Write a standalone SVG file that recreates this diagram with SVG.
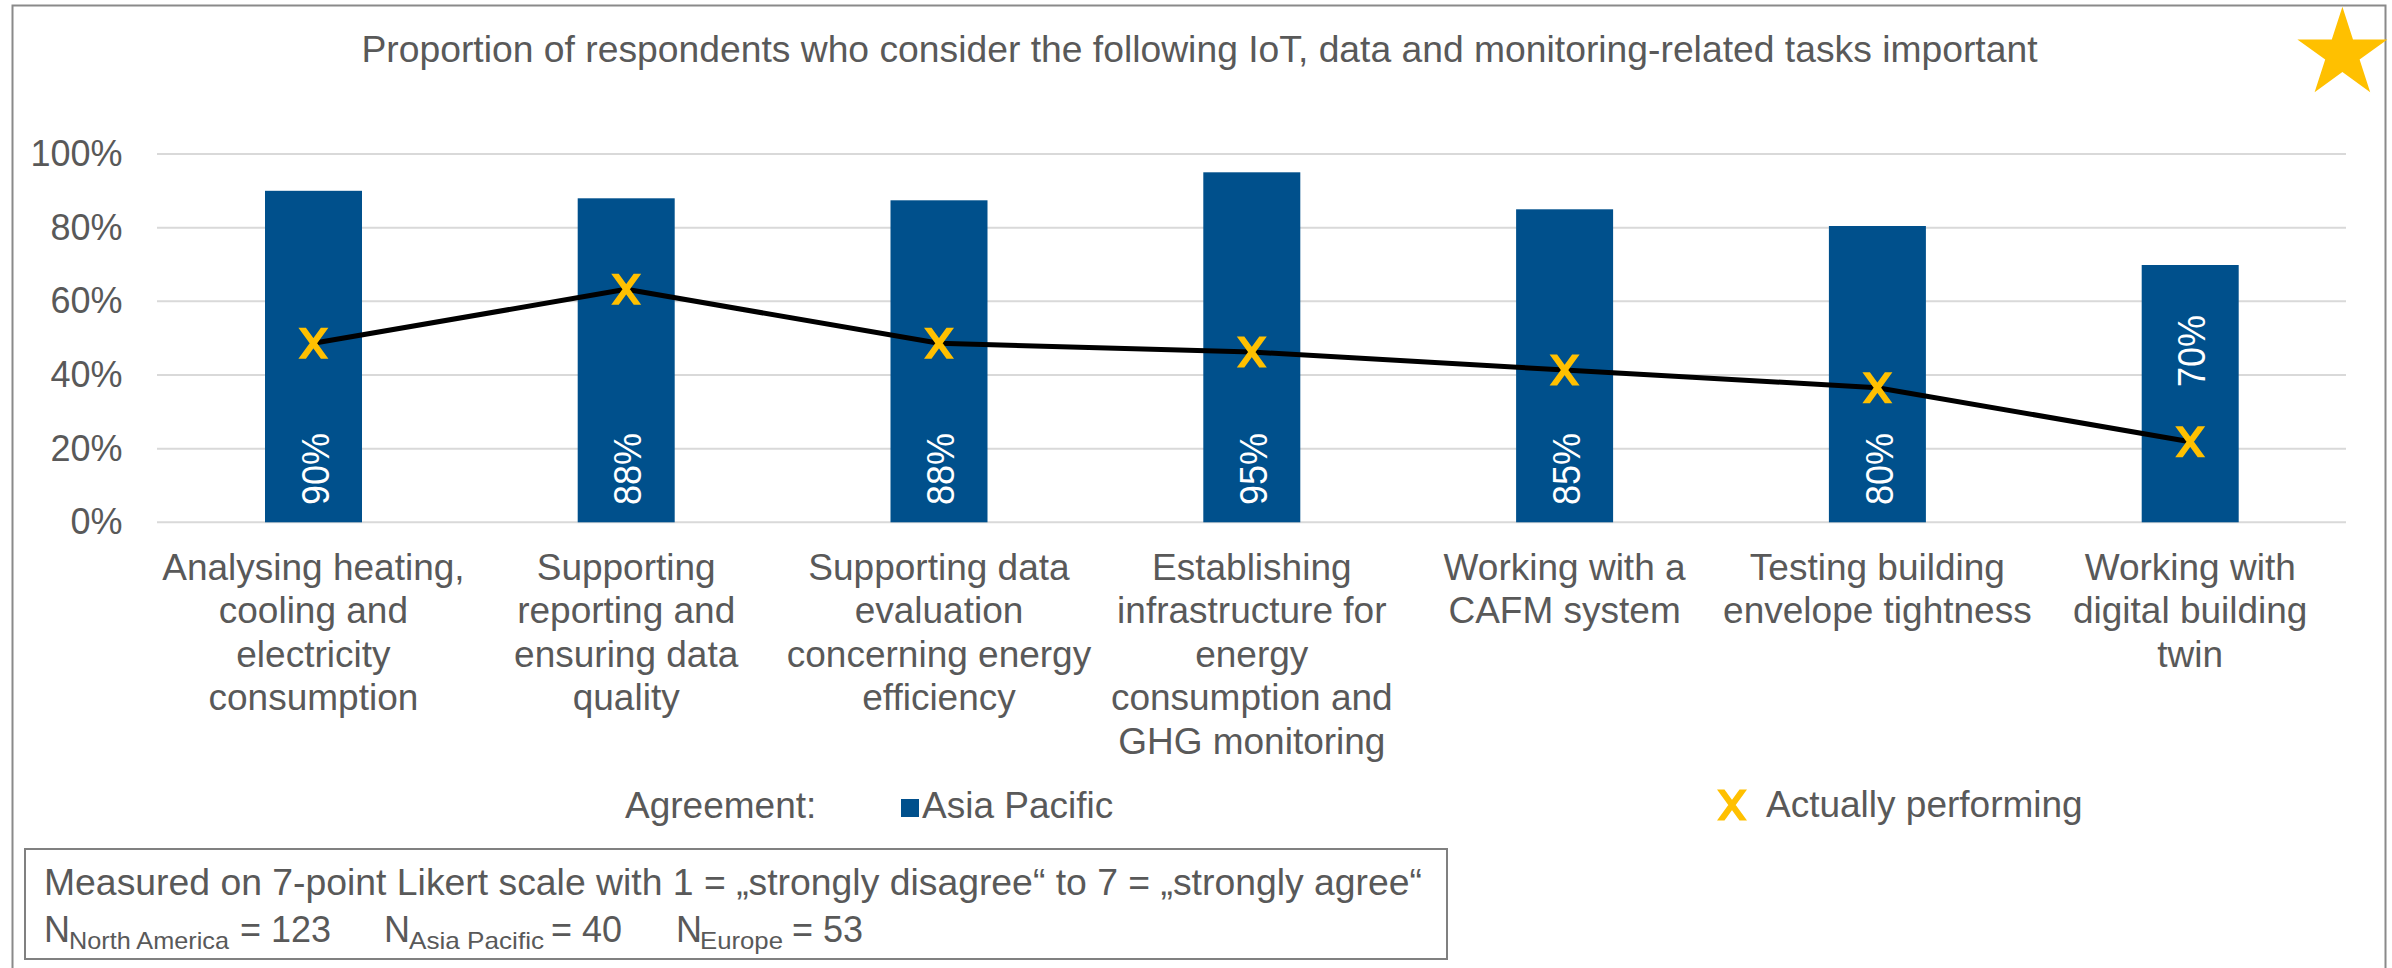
<svg xmlns="http://www.w3.org/2000/svg" xmlns:xlink="http://www.w3.org/1999/xlink" width="2392" height="968" viewBox="0 0 2392 968">
  <style>
    .t { font-family: "Liberation Sans", Arial, sans-serif; fill: #595959; }
    .ax { font-size: 36px; text-anchor: end; }
    .cat { font-size: 37px; text-anchor: middle; }
    .lg { font-size: 37px; }
    .fn { font-size: 36px; }
    .sub { font-size: 24px; }
    .grid { stroke: #d9d9d9; stroke-width: 2; }
    .bar { fill: #00508c; }
    .dl { font-family: "Liberation Sans", Arial, sans-serif; fill: #ffffff; font-size: 38px; }
  </style>
  <defs>
    <path id="xm" d="M-15,-15.5 L-7.5,-15.5 L15,15.5 L7.5,15.5 Z M7.5,-15.5 L15,-15.5 L-7.5,15.5 L-15,15.5 Z" fill="#ffc000"/>
  </defs>
  <rect x="0" y="0" width="2392" height="968" fill="#ffffff"/>
  <g id="frame">
    <path d="M12.5,970 L12.5,5.5 L2385.5,5.5 L2385.5,970" fill="none" stroke="#8a8a8a" stroke-width="2"/>
  </g>
  <g id="title">
    <text class="t" x="361.5" y="61.5" font-size="37" textLength="1676" lengthAdjust="spacingAndGlyphs">Proportion of respondents who consider the following IoT, data and monitoring-related tasks important</text>
  </g>
  <g id="star">
    <polygon fill="#ffc000" points="2342.4,6.7 2353.0,39.4 2387.4,39.4 2359.6,59.6 2370.2,92.3 2342.4,72.1 2314.6,92.3 2325.2,59.6 2297.4,39.4 2331.8,39.4"/>
  </g>
  <g id="gridlines">
    <line class="grid" x1="157" y1="154" x2="2346" y2="154"/>
    <line class="grid" x1="157" y1="227.7" x2="2346" y2="227.7"/>
    <line class="grid" x1="157" y1="301.3" x2="2346" y2="301.3"/>
    <line class="grid" x1="157" y1="375" x2="2346" y2="375"/>
    <line class="grid" x1="157" y1="448.7" x2="2346" y2="448.7"/>
    <line class="grid" x1="157" y1="522.3" x2="2346" y2="522.3"/>
  </g>
  <g id="y-axis">
    <text class="t ax" x="122.5" y="166">100%</text>
    <text class="t ax" x="122.5" y="239.7">80%</text>
    <text class="t ax" x="122.5" y="313.3">60%</text>
    <text class="t ax" x="122.5" y="387">40%</text>
    <text class="t ax" x="122.5" y="460.7">20%</text>
    <text class="t ax" x="122.5" y="534.3">0%</text>
  </g>
  <g id="bar-1"><rect class="bar" x="265" y="190.8" width="97" height="331.5"/><text class="dl" transform="translate(328.5,505) rotate(-90)" textLength="72" lengthAdjust="spacingAndGlyphs">90%</text></g>
  <g id="bar-2"><rect class="bar" x="577.7" y="198.3" width="97" height="324"/><text class="dl" transform="translate(641.3,505) rotate(-90)" textLength="72" lengthAdjust="spacingAndGlyphs">88%</text></g>
  <g id="bar-3"><rect class="bar" x="890.5" y="200.3" width="97" height="322"/><text class="dl" transform="translate(954.1,505) rotate(-90)" textLength="72" lengthAdjust="spacingAndGlyphs">88%</text></g>
  <g id="bar-4"><rect class="bar" x="1203.3" y="172.3" width="97" height="350"/><text class="dl" transform="translate(1266.9,505) rotate(-90)" textLength="72" lengthAdjust="spacingAndGlyphs">95%</text></g>
  <g id="bar-5"><rect class="bar" x="1516.1" y="209.3" width="97" height="313"/><text class="dl" transform="translate(1579.7,505) rotate(-90)" textLength="72" lengthAdjust="spacingAndGlyphs">85%</text></g>
  <g id="bar-6"><rect class="bar" x="1828.9" y="226" width="97" height="296.3"/><text class="dl" transform="translate(1892.5,505) rotate(-90)" textLength="72" lengthAdjust="spacingAndGlyphs">80%</text></g>
  <g id="bar-7"><rect class="bar" x="2141.7" y="265" width="97" height="257.3"/><text class="dl" transform="translate(2205.3,387) rotate(-90)" textLength="72" lengthAdjust="spacingAndGlyphs">70%</text></g>
  <g id="connectors">
    <polyline points="313.4,343.3 626.2,289.3 939,343.3 1251.8,352 1564.6,370 1877.4,387.7 2190.2,441.7" fill="none" stroke="#000000" stroke-width="5" stroke-linejoin="round"/>
  </g>
  <g id="markers">
    <use xlink:href="#xm" x="313.4" y="343.3"/>
    <use xlink:href="#xm" x="626.2" y="289.3"/>
    <use xlink:href="#xm" x="939" y="343.3"/>
    <use xlink:href="#xm" x="1251.8" y="352"/>
    <use xlink:href="#xm" x="1564.6" y="370"/>
    <use xlink:href="#xm" x="1877.4" y="387.7"/>
    <use xlink:href="#xm" x="2190.2" y="441.7"/>
  </g>
  <g id="category-labels">
    <text class="t cat"><tspan x="313.4" y="579.5">Analysing heating,</tspan><tspan x="313.4" y="623">cooling and</tspan><tspan x="313.4" y="666.5">electricity</tspan><tspan x="313.4" y="710">consumption</tspan></text>
    <text class="t cat"><tspan x="626.2" y="579.5">Supporting</tspan><tspan x="626.2" y="623">reporting and</tspan><tspan x="626.2" y="666.5">ensuring data</tspan><tspan x="626.2" y="710">quality</tspan></text>
    <text class="t cat"><tspan x="939" y="579.5">Supporting data</tspan><tspan x="939" y="623">evaluation</tspan><tspan x="939" y="666.5">concerning energy</tspan><tspan x="939" y="710">efficiency</tspan></text>
    <text class="t cat"><tspan x="1251.8" y="579.5">Establishing</tspan><tspan x="1251.8" y="623">infrastructure for</tspan><tspan x="1251.8" y="666.5">energy</tspan><tspan x="1251.8" y="710">consumption and</tspan><tspan x="1251.8" y="753.5">GHG monitoring</tspan></text>
    <text class="t cat"><tspan x="1564.6" y="579.5">Working with a</tspan><tspan x="1564.6" y="623">CAFM system</tspan></text>
    <text class="t cat"><tspan x="1877.4" y="579.5">Testing building</tspan><tspan x="1877.4" y="623">envelope tightness</tspan></text>
    <text class="t cat"><tspan x="2190.2" y="579.5">Working with</tspan><tspan x="2190.2" y="623">digital building</tspan><tspan x="2190.2" y="666.5">twin</tspan></text>
  </g>
  <g id="legend">
    <text class="t lg" x="625" y="818">Agreement:</text>
    <rect class="bar" x="901" y="799" width="18" height="18"/>
    <text class="t lg" x="922" y="818">Asia Pacific</text>
    <use xlink:href="#xm" x="1732" y="805"/>
    <text class="t lg" x="1766" y="817">Actually performing</text>
  </g>
  <g id="footnote">
    <rect x="25" y="849" width="1422" height="110" fill="none" stroke="#808080" stroke-width="2"/>
    <text class="t fn" x="44" y="895" textLength="1378" lengthAdjust="spacingAndGlyphs">Measured on 7-point Likert scale with 1 = „strongly disagree“ to 7 = „strongly agree“</text>
    <text class="t fn">
      <tspan x="44" y="941.5">N</tspan><tspan class="sub" x="69" y="949" textLength="160" lengthAdjust="spacingAndGlyphs">North America</tspan><tspan x="240" y="941.5">= 123</tspan>
      <tspan x="384" y="941.5">N</tspan><tspan class="sub" x="409" y="949" textLength="135" lengthAdjust="spacingAndGlyphs">Asia Pacific</tspan><tspan x="551" y="941.5">= 40</tspan>
      <tspan x="676" y="941.5">N</tspan><tspan class="sub" x="700" y="949" textLength="83" lengthAdjust="spacingAndGlyphs">Europe</tspan><tspan x="792" y="941.5">= 53</tspan>
    </text>
  </g>
</svg>
